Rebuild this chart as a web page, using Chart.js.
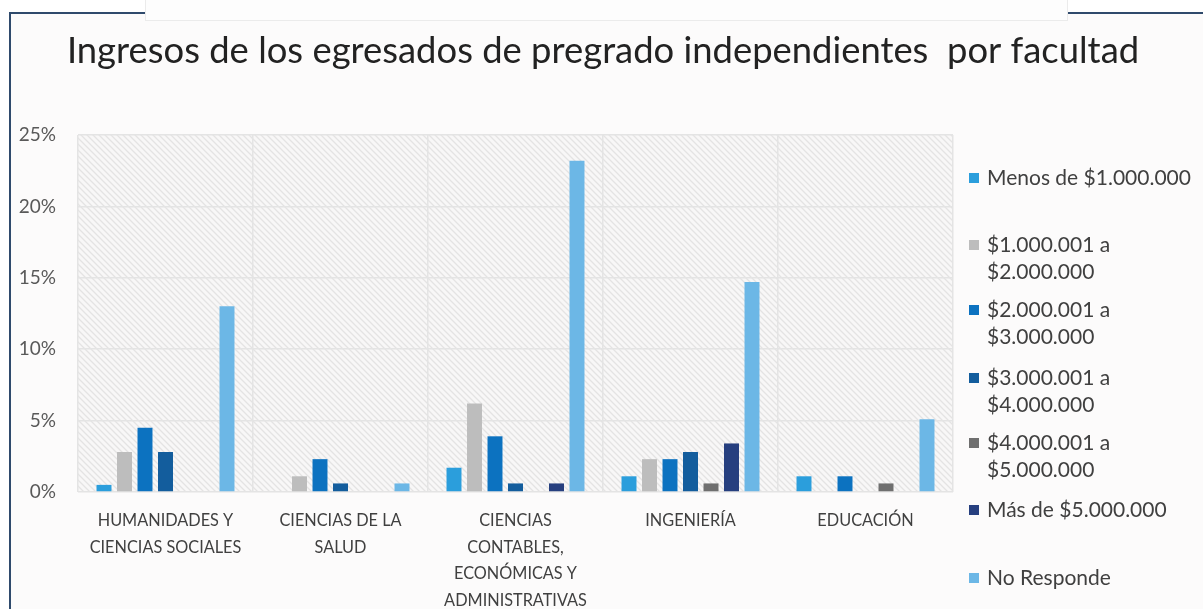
<!DOCTYPE html>
<html>
<head>
<meta charset="utf-8">
<script src="https://cdn.jsdelivr.net/npm/chart.js@4.4.1/dist/chart.umd.min.js"></script>
<style>
  html, body { margin:0; padding:0; background:#ffffff; }
  #wrap { position:relative; width:1203px; height:609px; overflow:hidden; }
  #panel { position:absolute; left:9px; top:12px; width:1200px; height:600px;
           background:#fcfbfb; border-left:2px solid #2f4a6c; border-top:2px solid #2f4a6c; }
  #topbox { position:absolute; left:145px; top:-2px; width:921px; height:22px;
            border:1px solid #ebebeb; border-top:none; background:#fdfdfd; }
  canvas { position:absolute; left:0; top:0; }
</style>
</head>
<body>
<div id="wrap">
  <div id="panel"></div>
  <div id="topbox"></div>
  <canvas id="c" width="1203" height="609"></canvas>
</div>
<script>
// ---- Data ----
const categories = [
  ['HUMANIDADES Y', 'CIENCIAS SOCIALES'],
  ['CIENCIAS DE LA', 'SALUD'],
  ['CIENCIAS', 'CONTABLES,', 'ECONÓMICAS Y', 'ADMINISTRATIVAS'],
  ['INGENIERÍA'],
  ['EDUCACIÓN']
];
const seriesNames = [
  ['Menos de $1.000.000'],
  ['$1.000.001 a', '$2.000.000'],
  ['$2.000.001 a', '$3.000.000'],
  ['$3.000.001 a', '$4.000.000'],
  ['$4.000.001 a', '$5.000.000'],
  ['Más de $5.000.000'],
  ['No Responde']
];
const menos1M   = [0.5, 0,   1.7, 1.1, 1.1];
const de1a2M    = [2.8, 1.1, 6.2, 2.3, 0];
const de2a3M    = [4.5, 2.3, 3.9, 2.3, 1.1];
const de3a4M    = [2.8, 0.6, 0.6, 2.8, 0];
const de4a5M    = [0,   0,   0,   0.6, 0.6];
const mas5M     = [0,   0,   0.6, 3.4, 0];
const noResponde= [13.0, 0.6, 23.2, 14.7, 5.1];
const yTicks = [0, 5, 10, 15, 20, 25];
const titleText = 'Ingresos de los egresados de pregrado independientes  por facultad';

const seriesValues = [menos1M, de1a2M, de2a3M, de3a4M, de4a5M, mas5M, noResponde];
const colors = ['#2b9edc', '#bdbdbd', '#0c72c0', '#135d9d', '#6f6f6f', '#263f7f', '#6cb7e6'];

// ---- Plugins ----
const hatchPlugin = {
  id: 'hatch',
  beforeDraw(chart) {
    const {ctx, chartArea: a} = chart;
    const t = document.createElement('canvas');
    t.width = 6; t.height = 6;
    const g = t.getContext('2d');
    g.fillStyle = '#f8f7f7';
    g.fillRect(0, 0, 6, 6);
    g.strokeStyle = '#e4e3e3';
    g.lineWidth = 1.3;
    g.beginPath();
    g.moveTo(0, 0); g.lineTo(6, 6);
    g.moveTo(-3, 3); g.lineTo(3, 9);
    g.moveTo(3, -3); g.lineTo(9, 3);
    g.stroke();
    ctx.save();
    ctx.fillStyle = ctx.createPattern(t, 'repeat');
    ctx.fillRect(a.left, a.top, a.right - a.left, a.bottom - a.top);
    ctx.restore();
  }
};

const titlePlugin = {
  id: 'customTitle',
  afterDraw(chart) {
    const ctx = chart.ctx;
    ctx.save();
    ctx.font = '36.4px Lato';
    ctx.fillStyle = '#222222';
    ctx.textAlign = 'center';
    ctx.textBaseline = 'alphabetic';
    ctx.fillText(titleText, 603, 63);
    ctx.restore();
  }
};

const legendY = [178, 245, 310, 378, 443, 510, 578];
const legendPlugin = {
  id: 'customLegend',
  afterDraw(chart) {
    const ctx = chart.ctx;
    ctx.save();
    ctx.font = '21px Lato';
    ctx.textBaseline = 'middle';
    ctx.textAlign = 'left';
    chart.data.datasets.forEach((ds, i) => {
      const y = legendY[i];
      ctx.fillStyle = ds.backgroundColor;
      ctx.fillRect(969, y - 5, 10, 10);
      ctx.fillStyle = '#404040';
      const lines = Array.isArray(ds.label) ? ds.label : [ds.label];
      lines.forEach((ln, k) => ctx.fillText(ln, 987, y + k * 27));
    });
    ctx.restore();
  }
};

// ---- Chart ----
new Chart(document.getElementById('c'), {
  type: 'bar',
  data: {
    labels: categories,
    datasets: seriesNames.map((name, i) => ({
      label: name,
      data: seriesValues[i],
      backgroundColor: colors[i],
      borderWidth: 0,
      categoryPercentage: 0.82,
      barPercentage: 0.73
    }))
  },
  options: {
    responsive: false,
    devicePixelRatio: 1,
    animation: false,
    layout: { padding: { left: 0, right: 250, top: 135, bottom: 0 } },
    plugins: {
      legend: { display: false },
      tooltip: { enabled: false },
      title: { display: false }
    },
    scales: {
      x: {
        grid: { display: true, offset: true, color: '#e4e4e4', lineWidth: 1.5, drawTicks: false },
        border: { display: false },
        ticks: {
          color: '#404040', padding: 15, maxRotation: 0, autoSkip: false,
          font: { family: 'Lato', size: 16.3, lineHeight: 1.65 }
        },
        afterFit(s) { s.height = 117; }
      },
      y: {
        min: 0, max: 25,
        grid: { color: '#e4e4e4', lineWidth: 1.5, drawTicks: false },
        border: { display: false },
        afterBuildTicks(s) { s.ticks = yTicks.map(v => ({ value: v })); },
        ticks: {
          color: '#595959', padding: 22,
          font: { family: 'Lato', size: 19 },
          callback: v => v + '%'
        },
        afterFit(s) { s.width = 78; }
      }
    }
  },
  plugins: [hatchPlugin, titlePlugin, legendPlugin]
});
</script>
</body>
</html>
